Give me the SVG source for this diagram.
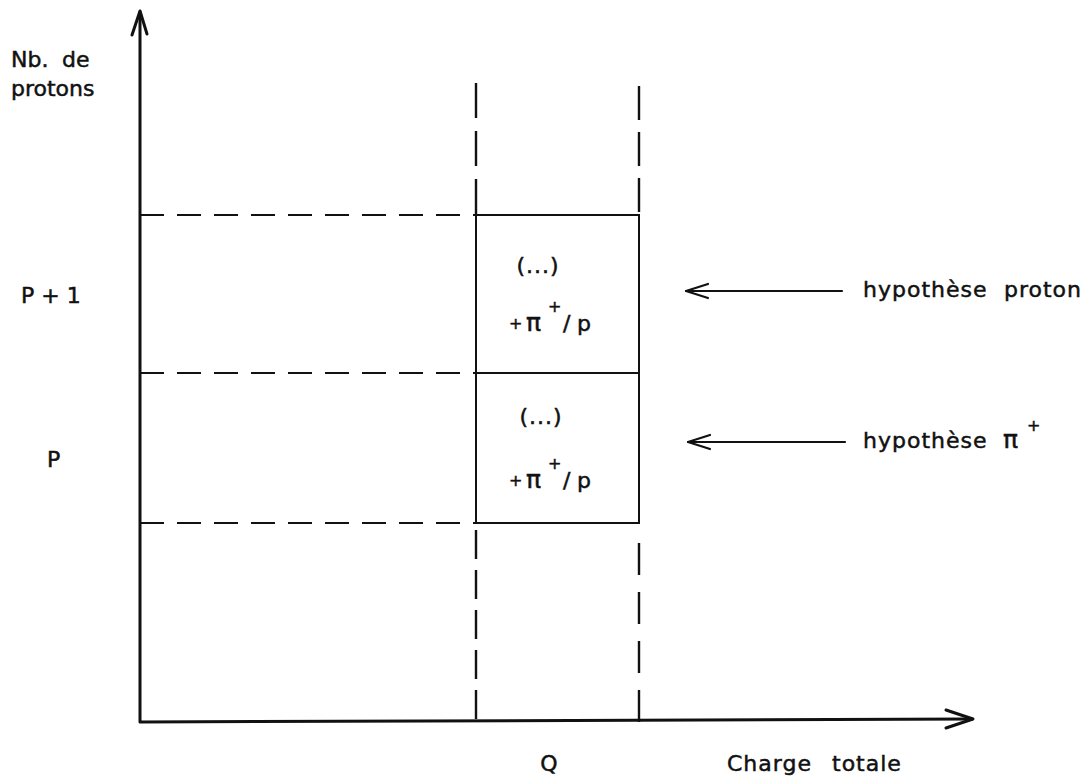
<svg xmlns="http://www.w3.org/2000/svg" width="1090" height="778" viewBox="0 0 1090 778">
<style>
text{font-family:"DejaVu Sans","Liberation Sans",sans-serif;fill:#111;stroke:#111;stroke-width:0.5;}
.lbl{font-size:22px;letter-spacing:1px;}
.ax{font-size:22px;}
.pl{font-size:16px;}
.pi{font-size:25px;}
.box{fill:none;stroke:#111;stroke-width:2;}
.axis{fill:none;stroke:#111;stroke-width:3;stroke-linecap:round;stroke-linejoin:round;}
.dash{fill:none;stroke:#111;stroke-width:2.2;stroke-dasharray:24 13;}
.vdash{fill:none;stroke:#111;stroke-width:2.4;}
.arr{fill:none;stroke:#111;stroke-width:2.2;stroke-linecap:round;stroke-linejoin:round;}
</style>
<rect width="1090" height="778" fill="#fff"/>
<g id="guides">
<line class="dash" x1="140" y1="215" x2="476" y2="215"/>
<line class="dash" x1="140" y1="373" x2="476" y2="373"/>
<line class="dash" x1="140" y1="523" x2="476" y2="523"/>
<line class="vdash" x1="476" y1="83" x2="476" y2="215" stroke-dasharray="35 13"/>
<line class="vdash" x1="639" y1="86" x2="639" y2="215" stroke-dasharray="34 12"/>
<line class="vdash" x1="476" y1="530" x2="476" y2="720" stroke-dasharray="29 11"/>
<line class="vdash" x1="639" y1="543" x2="639" y2="722" stroke-dasharray="32 17"/>
</g>
<g id="axes">
<polyline class="axis" points="140,12 140,722 972,719"/>
<polyline class="axis" points="132,35 140,11 147,34"/>
<polyline class="axis" points="946,710 973,719 946,728"/>
</g>
<g id="box-proton">
<rect class="box" x="476" y="215" width="163" height="158"/>
<text class="lbl" x="538" y="273" text-anchor="middle">(...)</text>
<text class="pl" x="509" y="329">+</text>
<text class="pi" x="526" y="331">π</text>
<text class="pl" x="548" y="312">+</text>
<text class="lbl" x="563" y="331">/</text>
<text class="lbl" x="577" y="331">p</text>
</g>
<g id="box-pion">
<rect class="box" x="476" y="373" width="163" height="150"/>
<text class="lbl" x="541" y="424" text-anchor="middle">(...)</text>
<text class="pl" x="509" y="486">+</text>
<text class="pi" x="526" y="488">π</text>
<text class="pl" x="548" y="469">+</text>
<text class="lbl" x="563" y="488">/</text>
<text class="lbl" x="577" y="488">p</text>
</g>
<g id="y-labels">
<text class="ax" x="11" y="67">Nb.<tspan x="62">de</tspan></text>
<text class="ax" x="11" y="96">protons</text>
<text class="ax" x="21" y="303">P + 1</text>
<text class="ax" x="47" y="467">P</text>
</g>
<g id="x-labels">
<text class="ax" x="549" y="771" text-anchor="middle">Q</text>
<text class="lbl" x="727" y="771">Charge<tspan x="832">totale</tspan></text>
</g>
<g id="connectors">
<line class="arr" x1="686" y1="291" x2="842" y2="291"/>
<polyline class="arr" points="708,284 686,291 708,298"/>
<line class="arr" x1="688" y1="442" x2="845" y2="442"/>
<polyline class="arr" points="710,435 688,442 710,449"/>
</g>
<g id="hyp-labels">
<text class="lbl" x="863" y="297">hypothèse</text>
<text class="lbl" x="1004" y="297">proton</text>
<text class="lbl" x="863" y="448">hypothèse</text>
<text class="pi" x="1003" y="448">π</text>
<text class="pl" x="1027" y="431">+</text>
</g>
</svg>
